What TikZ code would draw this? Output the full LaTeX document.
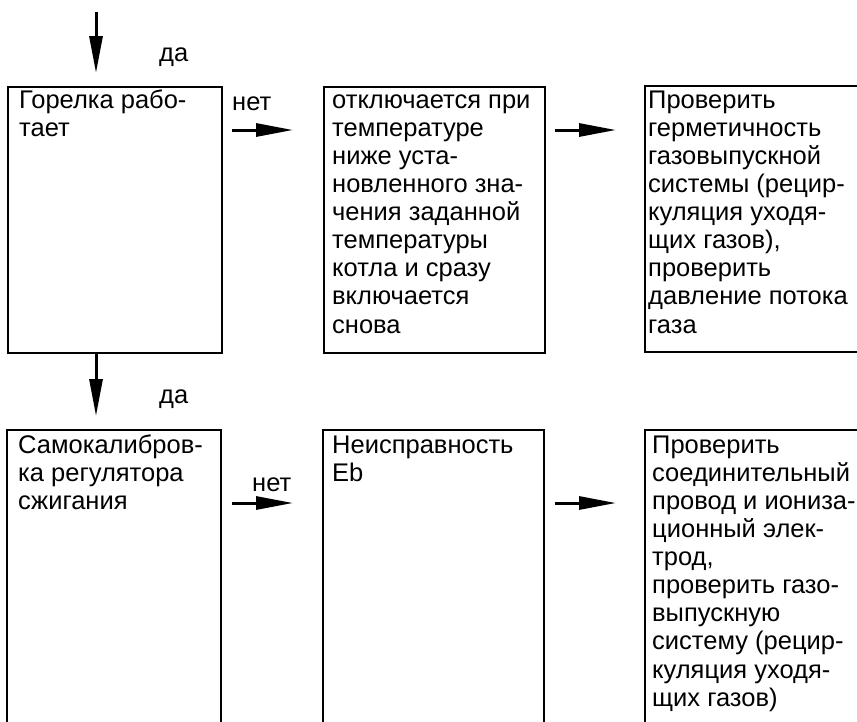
\documentclass[tikz,border=0pt]{standalone}
\usepackage{fontspec}
\setmainfont{Liberation Sans}
\usetikzlibrary{arrows.meta}
\newcommand{\firstline}{\rule{0pt}{21pt}}
\begin{document}
\begin{tikzpicture}[x=1pt,y=-1pt,
  boxline/.style={line width=1.8pt},
  txt/.style={anchor=north west,inner sep=0pt,align=left,font=\fontsize{25.5}{28.1}\selectfont},
  lbl/.style={anchor=base west,inner sep=0pt,font=\fontsize{25.5}{28.1}\selectfont},
  arr/.style={line width=3pt,-{Triangle[length=37pt,width=13pt]}}]
\useasboundingbox (0,0) rectangle (857,721);
\clip (0,0) rectangle (857,721);
% boxes
\node[boxline,draw,rectangle,minimum width=214pt,minimum height=266pt,anchor=north west,inner sep=0pt] (b1) at (7,86) {};
\node[boxline,draw,rectangle,minimum width=221pt,minimum height=266pt,anchor=north west,inner sep=0pt] (b2) at (323,86) {};
\draw[boxline] (870,86) -- (645,86) -- (645,352) -- (870,352);
\draw[boxline] (7,740) -- (7,430) -- (221,430) -- (221,740);
\draw[boxline] (323,740) -- (323,430) -- (544,430) -- (544,740);
\draw[boxline] (870,430) -- (645,430) -- (645,740);
% texts (first baselines at 108 and 453)
\node[txt] (t1) at (19,87) {\firstline Горелка рабо-\\тает};
\node[txt] (t2) at (332,87) {\firstline отключается при\\температуре\\ниже уста-\\новленного зна-\\чения заданной\\температуры\\котла и сразу\\включается\\снова};
\node[txt] (t3) at (648,87) {\firstline Проверить\\герметичность\\газовыпускной\\системы (рецир-\\куляция уходя-\\щих газов),\\проверить\\давление потока\\газа};
\node[txt] (t4) at (18,432) {\firstline Самокалибров-\\ка регулятора\\сжигания};
\node[txt] (t5) at (332,432) {\firstline Неисправность\\Eb};
\node[txt] (t6) at (652,432) {\firstline Проверить\\соединительный\\провод и иониза-\\ционный элек-\\трод,\\проверить газо-\\выпускную\\систему (рецир-\\куляция уходя-\\щих газов)};
% labels
\node[lbl] (da1) at (159,61) {да};
\node[lbl] (da2) at (159,403) {да};
\node[lbl] (net1) at (232,110) {нет};
\node[lbl] (net2) at (252,491) {нет};
% arrows
\coordinate (a0s) at (96,12);
\coordinate (a0e) at (96,73);
\draw[arr] (a0s) -- (a0e);
\coordinate (a1e) at (96,416);
\draw[arr] (b1.south -| a1e) -- (a1e);
\coordinate (h1s) at (232,130); \coordinate (h1e) at (293,130);
\draw[arr] (h1s) -- (h1e);
\coordinate (h2s) at (555,130); \coordinate (h2e) at (616,130);
\draw[arr] (h2s) -- (h2e);
\coordinate (h3s) at (232,503); \coordinate (h3e) at (293,503);
\draw[arr] (h3s) -- (h3e);
\coordinate (h4s) at (555,503); \coordinate (h4e) at (616,503);
\draw[arr] (h4s) -- (h4e);
\end{tikzpicture}
\end{document}
